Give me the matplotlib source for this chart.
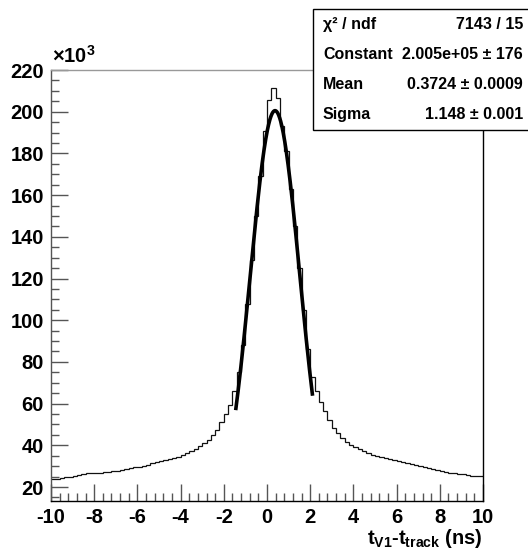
import numpy as np
import matplotlib
matplotlib.use("Agg")
import matplotlib.pyplot as plt
from matplotlib.ticker import MultipleLocator, FixedLocator
from matplotlib.patches import Rectangle

plt.rcParams['font.family'] = ['Liberation Sans', 'DejaVu Sans']
plt.rcParams['mathtext.fontset'] = 'custom'
plt.rcParams['mathtext.rm'] = 'Liberation Sans:bold'
plt.rcParams['mathtext.it'] = 'Liberation Sans:bold'
plt.rcParams['mathtext.bf'] = 'Liberation Sans:bold'

# ---- data ----
bin_edges = np.linspace(-10, 10, 101)
counts_k = [
    23.8, 24.0, 24.3, 24.6, 25.0, 25.4, 25.8, 26.2, 26.6, 26.8,
    26.9, 26.9, 27.1, 27.3, 27.6, 27.9, 28.2, 28.6, 29.0, 29.4,
    29.8, 30.3, 30.8, 31.3, 31.8, 32.3, 32.8, 33.3, 33.9, 34.6,
    35.3, 36.2, 37.2, 38.3, 39.6, 41.0, 42.7, 44.8, 47.5, 51.0,
    55.0, 59.5, 66.0, 75.0, 88.0, 108.0, 129.0, 150.0, 169.0, 190.6,
    205.7, 211.3, 206.5, 193.0, 181.0, 163.0, 145.0, 125.0, 105.0, 86.0,
    73.0, 66.0, 61.0, 56.5, 52.0, 48.5, 45.8, 43.6, 41.8, 40.3,
    39.0, 38.0, 37.1, 36.3, 35.6, 35.0, 34.4, 33.9, 33.4, 32.9,
    32.4, 31.9, 31.5, 31.1, 30.7, 30.3, 29.8, 29.3, 28.8, 28.2,
    27.7, 27.3, 26.9, 26.6, 26.4, 26.1, 25.8, 25.5, 25.3, 25.1,
]
fit_constant = 2.005e5
fit_mean = 0.3724
fit_sigma = 1.148
fit_range = (-1.45, 2.11)

x_ticks = [-10, -8, -6, -4, -2, 0, 2, 4, 6, 8, 10]
y_ticks = [20, 40, 60, 80, 100, 120, 140, 160, 180, 200, 220]

stats_names = ["χ² / ndf", "Constant", "Mean", "Sigma"]
stats_values = ["7143 / 15", "2.005e+05 ± 176", "0.3724 ± 0.0009", "1.148 ± 0.001"]

# ---- figure ----
W, H = 528, 552
fig = plt.figure(figsize=(W / 100, H / 100), dpi=100)
L, R, T, B = 51, 483, 70, 501
ax = fig.add_axes([L / W, 1 - B / H, (R - L) / W, (B - T) / H])

ax.stairs(counts_k, bin_edges, baseline=None, color='#111111', lw=0.9)

xf = np.linspace(fit_range[0], fit_range[1], 300)
yf = fit_constant * np.exp(-0.5 * ((xf - fit_mean) / fit_sigma) ** 2) / 1000.0
ax.plot(xf, yf, color='black', lw=2.6, solid_capstyle='butt')

ax.set_xlim(-10, 10)
ax.set_ylim(13.3, 220)
ax.xaxis.set_major_locator(FixedLocator(x_ticks))
ax.yaxis.set_major_locator(FixedLocator(y_ticks))
ax.xaxis.set_minor_locator(MultipleLocator(0.4))
ax.yaxis.set_minor_locator(MultipleLocator(5))
ax.set_xticklabels([str(v) for v in x_ticks])
ax.set_yticklabels([str(v) for v in y_ticks])
ax.tick_params(which='major', direction='in', length=12, width=1.0,
               labelsize=14.5, color='#555555')
ax.tick_params(which='minor', direction='in', length=6, width=1.0, color='#555555')
ax.tick_params(axis='x', which='major', pad=5)
ax.tick_params(axis='y', which='major', pad=5)
for lab in ax.get_xticklabels() + ax.get_yticklabels():
    lab.set_fontweight('bold')

ax.spines['top'].set_color('#999999')
ax.spines['left'].set_color('#555555')
ax.spines['bottom'].set_color('black')
ax.spines['right'].set_color('black')
for s in ax.spines.values():
    s.set_linewidth(1.0)

# multiplier
fig.text(52 / W, 1 - 63 / H, r'$\times$10$^{3}$', fontsize=14.5, fontweight='bold',
         ha='left', va='baseline')

# x label
fig.text(R / W, 1 - 544 / H, r'$t_{V1}$-$t_{track}$ (ns)', fontsize=14.5,
         fontweight='bold', ha='right', va='baseline')

# stats box
bx0, by0, bx1, by1 = 313, 9, 530, 130
fig.add_artist(Rectangle((bx0 / W, 1 - by1 / H), (bx1 - bx0) / W, (by1 - by0) / H,
                         transform=fig.transFigure, facecolor='white',
                         edgecolor='black', lw=1.0, zorder=5))
row_h = (by1 - by0) / len(stats_names)
for i, (n, v) in enumerate(zip(stats_names, stats_values)):
    yc = by0 + row_h * (i + 0.5)
    fig.text(323 / W, 1 - yc / H, n, fontsize=11.5, fontweight='bold',
             ha='left', va='center', zorder=6)
    fig.text(523 / W, 1 - yc / H, v, fontsize=11.5, fontweight='bold',
             ha='right', va='center', zorder=6)

fig.savefig('out.png', dpi=100)
